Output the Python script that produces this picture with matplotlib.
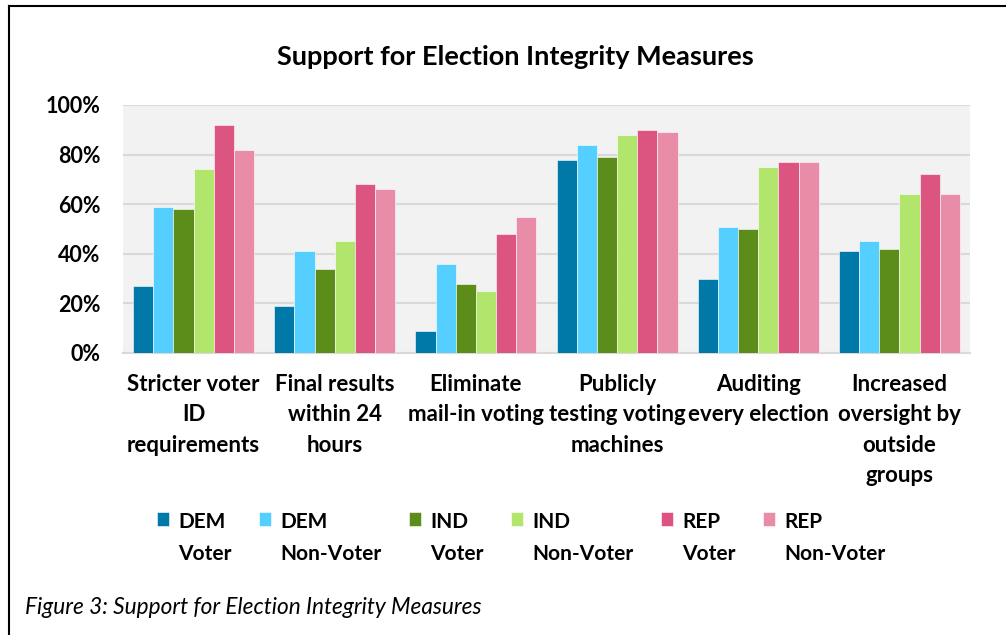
import matplotlib
matplotlib.use("Agg")
import matplotlib.pyplot as plt
import numpy as np
from matplotlib.lines import Line2D

plt.rcParams['font.family'] = ['Lato', 'DejaVu Sans']

# data
categories = ["Stricter voter\nID\nrequirements", "Final results\nwithin 24\nhours",
              "Eliminate\nmail-in voting", "Publicly\ntesting voting\nmachines",
              "Auditing\nevery election", "Increased\noversight by\noutside\ngroups"]
series_names = ["DEM\nVoter", "DEM\nNon-Voter", "IND\nVoter", "IND\nNon-Voter",
                "REP\nVoter", "REP\nNon-Voter"]
dem_voter = [27, 19, 9, 78, 30, 41]
dem_nonvoter = [59, 41, 36, 84, 51, 45]
ind_voter = [58, 34, 28, 79, 50, 42]
ind_nonvoter = [74, 45, 25, 88, 75, 64]
rep_voter = [92, 68, 48, 90, 77, 72]
rep_nonvoter = [82, 66, 55, 89, 77, 64]
colors = ["#0079A8", "#55CFFF", "#5C8C1A", "#B1E56B", "#DC5580", "#E88CA8"]

series = [dem_voter, dem_nonvoter, ind_voter, ind_nonvoter, rep_voter, rep_nonvoter]

fig = plt.figure(figsize=(10.06, 6.35), dpi=100)
ax = fig.add_axes([0.1223, 0.4441, 0.8419, 0.3906])
ax.set_facecolor("#F2F2F2")

x = np.arange(len(categories))
w = 1 / 7
for i, (vals, name, c) in enumerate(zip(series, series_names, colors)):
    ax.bar(x + (i - 2.5) * w, np.array(vals) / 100, width=w, color=c, label=name,
           edgecolor="white", linewidth=0.4, zorder=3)

ax.set_xlim(-0.5, len(categories) - 0.5)
ax.set_ylim(0, 1)
yt = np.arange(0, 1.01, 0.2)
ax.set_yticks(yt)
ax.set_yticklabels([f"{int(round(v * 100))}%" for v in yt], fontsize=15.5,
                   fontweight="bold")
ax.set_xticks(x)
ax.set_xticklabels(categories, fontsize=16, fontweight="bold", linespacing=1.55)
ax.tick_params(axis="y", length=0, pad=16)
ax.tick_params(axis="x", length=0, pad=15)
ax.grid(axis="y", color="#D9D9D9", linewidth=1.5, zorder=0)
for s in ["top", "right", "left"]:
    ax.spines[s].set_visible(False)
ax.spines["bottom"].set_color("#D9D9D9")
ax.spines["bottom"].set_linewidth(1.5)

fig.text(0.512, 0.91, "Support for Election Integrity Measures", ha="center",
         va="center", fontsize=19.5, fontweight="bold")

leg = fig.legend(loc="upper left", bbox_to_anchor=(0.156, 0.193), ncol=6, frameon=False,
                 prop={"size": 15, "weight": "bold"}, handlelength=0.6,
                 handleheight=0.6, handletextpad=0.43, columnspacing=1.3,
                 borderpad=0, borderaxespad=0)
for t in leg.get_texts():
    t.set_linespacing(1.75)
# put the colour square next to the first line of each label
for col in leg._legend_handle_box.get_children():
    for item in col.get_children():
        item.align = "top"

fig.text(0.025, 0.044, "Figure 3: Support for Election Integrity Measures",
         fontsize=16.3, style="italic", va="center")

# border on top and left
fig.add_artist(Line2D([0.009, 1.0], [0.991, 0.991], color="black", linewidth=1.5))
fig.add_artist(Line2D([0.009, 0.009], [0.0, 0.991], color="black", linewidth=1.5))

fig.savefig("out.png", dpi=100)
